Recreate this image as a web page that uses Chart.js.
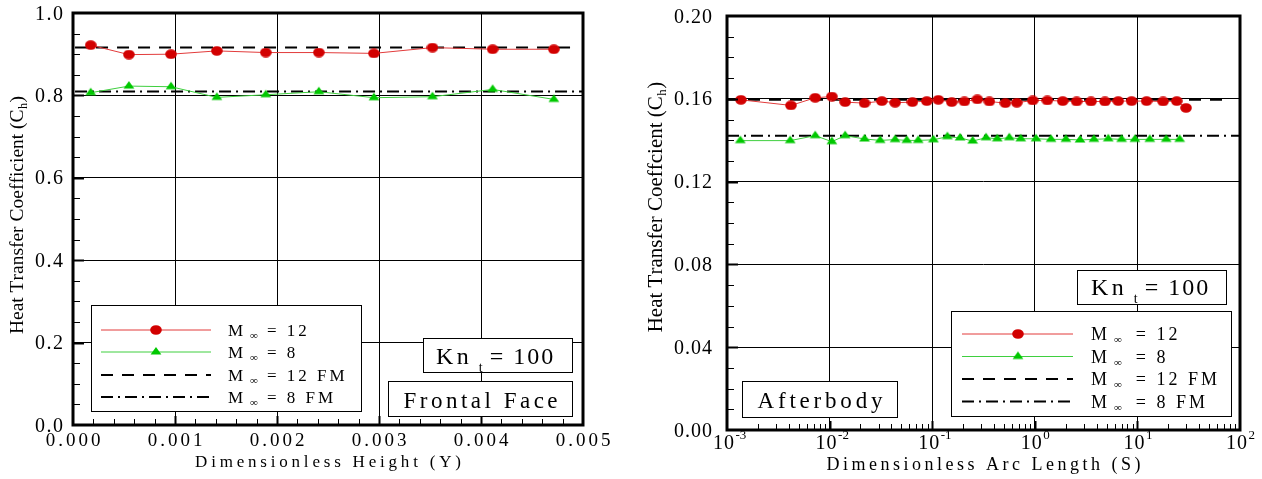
<!DOCTYPE html>
<html>
<head>
<meta charset="utf-8">
<script src="https://cdn.jsdelivr.net/npm/chart.js@4.4.1/dist/chart.umd.min.js"></script>
<style>
  html, body { margin: 0; padding: 0; background: #fff; }
  #wrap { position: relative; width: 1262px; height: 479px; }
  canvas { position: absolute; top: 0; }
  #frontal { left: 0; }
  #after { left: 620px; }
</style>
</head>
<body>
<div id="wrap">
  <canvas id="frontal" width="620" height="479"></canvas>
  <canvas id="after" width="642" height="479"></canvas>
</div>
<script>
// ---- Frontal face (Kn_t = 100) ----
const heightY = [0.000174, 0.000548, 0.000961, 0.00141, 0.00189, 0.00241, 0.00295, 0.003524, 0.004114, 0.004714];
const frontalM12 = [0.922, 0.899, 0.900, 0.908, 0.904, 0.904, 0.902, 0.916, 0.912, 0.912];
const frontalM8 = [0.8065, 0.8226, 0.821, 0.7952, 0.8016, 0.8089, 0.7944, 0.7968, 0.8145, 0.7903];
const frontalFM12 = 0.916;
const frontalFM8 = 0.8097;
const frontalFM12Span = [0.00002, 0.0049];
const frontalFM8Span = [0.00002, 0.005];
const heightTicks = [0, 0.001, 0.002, 0.003, 0.004, 0.005];
const heightTickLabels = ['0.000', '0.001', '0.002', '0.003', '0.004', '0.005'];
const frontalChTicks = [0, 0.2, 0.4, 0.6, 0.8, 1.0];
const frontalChTickLabels = ['0.0', '0.2', '0.4', '0.6', '0.8', '1.0'];

// ---- Afterbody (Kn_t = 100) ----
const arcS12 = [0.001367, 0.0042, 0.00724, 0.01052, 0.01418, 0.0219, 0.0323, 0.0435, 0.0641, 0.0885,
  0.1148, 0.155, 0.206, 0.2756, 0.3607, 0.516, 0.667, 0.955, 1.325, 1.87, 2.56, 3.53, 4.83, 6.50, 8.78, 12.3,
  17.8, 24.2, 29.8];
const afterM12 = [0.1595, 0.1568, 0.1605, 0.1611, 0.1584, 0.1579, 0.1589, 0.1581, 0.1584, 0.1589,
  0.1595, 0.1584, 0.1587, 0.1597, 0.1587, 0.1579, 0.1581, 0.1592, 0.1592, 0.1589, 0.1587, 0.1587, 0.1587, 0.1589, 0.1589, 0.1589,
  0.1587, 0.1589, 0.1556];
const arcS8 = [0.00135, 0.00413, 0.00724, 0.01052, 0.01418, 0.0219, 0.0311, 0.0435, 0.0565, 0.0731,
  0.1028, 0.1406, 0.187, 0.248, 0.335, 0.431, 0.565, 0.729, 1.03, 1.44, 2.01, 2.76, 3.77, 5.20, 7.01, 9.46, 13.2,
  19.1, 25.8];
const afterM8 = [0.1398, 0.1398, 0.1422, 0.1393, 0.1422, 0.1406, 0.1399, 0.1403, 0.1399, 0.1399,
  0.1402, 0.1417, 0.1411, 0.1396, 0.1412, 0.1407, 0.1412, 0.1407, 0.1407, 0.1404, 0.1404, 0.1401, 0.1404, 0.1407, 0.1404, 0.1404, 0.1404,
  0.1404, 0.1404];
const afterFM12 = 0.1596;
const afterFM8 = 0.1422;
const afterFM12Span = [0.001, 80];
const afterFM8Span = [0.001, 100];
const arcTicks = [0.001, 0.01, 0.1, 1, 10, 100];
const arcTickExponents = ['-3', '-2', '-1', '0', '1', '2'];
const afterChTicks = [0, 0.04, 0.08, 0.12, 0.16, 0.20];
const afterChTickLabels = ['0.00', '0.04', '0.08', '0.12', '0.16', '0.20'];

const SERIF = '"Liberation Serif", "Times New Roman", serif';
const RED = '#d20000', RED_LINE = '#e23b3b';
const GREEN = '#00c800', GREEN_LINE = '#3fcf3f';
const DASH = [12, 9];
const DASH_DOT = [12, 5, 2, 5];

// Marker bitmaps: a slightly flattened disc and an upward triangle centred on its centroid
function discMarker(color) {
  const c = document.createElement('canvas');
  c.width = 12; c.height = 10;
  const g = c.getContext('2d');
  g.fillStyle = color;
  g.beginPath();
  g.ellipse(6, 5, 5.8, 4.8, 0, 0, Math.PI * 2);
  g.fill();
  return c;
}
function triangleMarker(color) {
  const c = document.createElement('canvas');
  c.width = 12; c.height = 14;
  const g = c.getContext('2d');
  g.fillStyle = color;
  g.beginPath();
  g.moveTo(6, 2); g.lineTo(11.4, 9.6); g.lineTo(0.6, 9.6);
  g.closePath();
  g.fill();
  return c;
}
const disc = discMarker(RED);
const tri = triangleMarker(GREEN);

function series(xs, ys, lineColor, marker) {
  return {
    data: xs.map((x, i) => ({ x: x, y: ys[i] })),
    showLine: true, borderColor: lineColor, borderWidth: 1,
    pointStyle: marker, pointRadius: 6, tension: 0
  };
}
function freeMolecular(span, level, dash) {
  return {
    data: span.map(x => ({ x: x, y: level })),
    showLine: true, borderColor: '#000', borderWidth: 2, borderDash: dash,
    pointRadius: 0
  };
}

// Text helpers: the labels are drawn letter by letter so they can be spaced out
function runWidth(ctx, r) {
  ctx.font = r.size + 'px ' + SERIF;
  let w = 0;
  for (const ch of r.t) w += ctx.measureText(ch).width + (r.ls || 0);
  return w - (r.ls || 0);
}
function drawRuns(ctx, runs, x, y, align) {
  const total = runs.reduce((s, r) => s + (r.gap || 0) + runWidth(ctx, r), 0);
  let cx = align === 'center' ? x - total / 2 : align === 'right' ? x - total : x;
  ctx.textAlign = 'left';
  ctx.textBaseline = 'alphabetic';
  for (const r of runs) {
    cx += r.gap || 0;
    ctx.font = r.size + 'px ' + SERIF;
    for (const ch of r.t) {
      ctx.fillText(ch, cx, y + (r.dy || 0));
      cx += ctx.measureText(ch).width + (r.ls || 0);
    }
    cx -= r.ls || 0;
  }
  return cx;
}
function seg(ctx, x1, y1, x2, y2, w) {
  ctx.lineWidth = w;
  ctx.beginPath(); ctx.moveTo(x1, y1); ctx.lineTo(x2, y2); ctx.stroke();
}
function textBox(ctx, b) {
  ctx.fillStyle = '#fff';
  ctx.fillRect(b.x1, b.y1, b.x2 - b.x1, b.y2 - b.y1);
  ctx.strokeStyle = '#000';
  ctx.lineWidth = 1;
  ctx.strokeRect(b.x1 + 0.5, b.y1 + 0.5, b.x2 - b.x1 - 1, b.y2 - b.y1 - 1);
  ctx.fillStyle = '#000';
}
function knRuns(size) {
  return [
    { t: 'K', size: size },
    { t: 'n', size: size, gap: 3.5 },
    { t: 't', size: 14, dy: 8, gap: 10 },
    { t: '= 100', size: size, ls: 2, gap: 7 }
  ];
}
function machRuns(size, mach, gaps) {
  return [
    { t: 'M', size: size },
    { t: '\u221E', size: 11, dy: 3, gap: gaps[0] },
    { t: '= ' + mach, size: size, ls: 3, gap: gaps[1] }
  ];
}

// Frame, inward tick marks, tick labels, titles, annotation boxes and legend
function decor(o) {
  return {
    id: 'decor',
    afterDraw(chart) {
      const ctx = chart.ctx, a = chart.chartArea;
      const sx = chart.scales.x, sy = chart.scales.y;
      ctx.save();
      ctx.strokeStyle = '#000';
      ctx.fillStyle = '#000';

      o.yMinor.forEach(v => { const p = Math.round(sy.getPixelForValue(v)) + 0.5; seg(ctx, a.left, p, a.left + 7, p, 1); });
      o.yMajor.forEach(v => { const p = Math.round(sy.getPixelForValue(v)) + 0.5; seg(ctx, a.left, p, a.left + 11, p, 2); });
      o.xMinor.forEach(v => { const p = Math.round(sx.getPixelForValue(v)) + 0.5; seg(ctx, p, a.bottom, p, a.bottom - 6, 1); });
      o.xMajor.forEach(v => { const p = Math.round(sx.getPixelForValue(v)) + 0.5; seg(ctx, p, a.bottom, p, a.bottom - 9, 2); });

      ctx.lineWidth = 3;
      ctx.strokeRect(a.left, a.top, a.right - a.left, a.bottom - a.top);

      sy.ticks.forEach((t, i) => {
        drawRuns(ctx, [{ t: o.yLabels[i], size: o.yLabelSize, ls: o.yLabelLs }],
          a.left - o.yLabelGap, sy.getPixelForValue(t.value) + o.yLabelSize * 0.33, 'right');
      });
      sx.ticks.forEach((t, i) => o.xLabel(ctx, sx.getPixelForValue(t.value), i));

      drawRuns(ctx, [{ t: o.xTitle, size: o.xTitleSize, ls: o.xTitleLs }], (a.left + a.right) / 2, o.xTitleY, 'center');

      ctx.save();
      ctx.translate(o.yTitleX, o.yTitleY);
      ctx.rotate(-Math.PI / 2);
      drawRuns(ctx, [
        { t: o.yTitle, size: o.yTitleSize },
        { t: 'h', size: o.yTitleSize * 0.62, dy: 4, gap: 0.5 },
        { t: ')', size: o.yTitleSize, gap: 0.5 }
      ], 0, 0, 'center');
      ctx.restore();

      o.boxes.forEach(b => {
        textBox(ctx, b);
        if (b.runs) drawRuns(ctx, b.runs, b.x1 + b.textX, b.y1 + b.base, 'left');
        else drawRuns(ctx, [{ t: b.text, size: b.size, ls: b.ls }], (b.x1 + b.x2) / 2, b.y1 + b.base, 'center');
      });

      const L = o.legend;
      textBox(ctx, L.box);
      L.rows.forEach((row, i) => {
        const ds = chart.data.datasets[i];
        const y = L.ys[i];
        ctx.save();
        ctx.strokeStyle = ds.borderColor;
        ctx.setLineDash(ds.borderDash || []);
        seg(ctx, L.lineX[0], y, L.lineX[1], y, ds.borderWidth);
        ctx.restore();
        if (ds.pointRadius > 0) {
          const m = ds.pointStyle;
          ctx.drawImage(m, L.markX - m.width / 2, y - m.height / 2);
        }
        ctx.fillStyle = '#000';
        drawRuns(ctx, row, L.textX, y + 6, 'left');
      });
      ctx.restore();
    }
  };
}

function build(id, o) {
  const clearEdges = c => (c.index === 0 || c.index === c.scale.ticks.length - 1) ? 'rgba(0,0,0,0)' : '#000';
  return new Chart(document.getElementById(id), {
    type: 'scatter',
    data: { datasets: o.datasets },
    options: {
      responsive: false, animation: false, devicePixelRatio: 1, events: [],
      layout: { padding: o.padding },
      plugins: { legend: { display: false }, tooltip: { enabled: false } },
      scales: {
        x: {
          type: o.xType, min: o.xRange[0], max: o.xRange[1], z: 1,
          afterBuildTicks: s => { s.ticks = o.xTicks.map(v => ({ value: v })); },
          afterFit: s => { s.height = o.xAxisHeight; },
          ticks: { display: false },
          border: { display: false },
          grid: { color: clearEdges, lineWidth: 1, drawTicks: false }
        },
        y: {
          type: 'linear', min: o.yRange[0], max: o.yRange[1], z: 1,
          afterBuildTicks: s => { s.ticks = o.yTicks.map(v => ({ value: v })); },
          afterFit: s => { s.width = o.yAxisWidth; },
          ticks: { display: false },
          border: { display: false },
          grid: { color: clearEdges, lineWidth: 1, drawTicks: false }
        }
      }
    },
    plugins: [decor(o)]
  });
}

// Minor tick positions
const frontalYMinor = [], afterYMinor = [], heightMinor = [], arcMinor = [];
for (let k = 1; k < 20; k++) if (k % 4) frontalYMinor.push(k * 0.05);
for (let k = 1; k < 20; k++) if (k % 4) afterYMinor.push(k * 0.01);
for (let k = 1; k < 25; k++) if (k % 5) heightMinor.push(k * 0.0002);
for (let e = -3; e < 2; e++) for (let m = 2; m <= 9; m++) arcMinor.push(m * Math.pow(10, e));

const frontalChart = build('frontal', {
  datasets: [
    series(heightY, frontalM12, RED_LINE, disc),
    series(heightY, frontalM8, GREEN_LINE, tri),
    freeMolecular(frontalFM12Span, frontalFM12, DASH),
    freeMolecular(frontalFM8Span, frontalFM8, DASH_DOT)
  ],
  padding: { left: 0, top: 13, right: 37, bottom: 0 },
  xAxisHeight: 54, yAxisWidth: 73,
  xType: 'linear', xRange: [0, 0.005], yRange: [0, 1],
  xTicks: heightTicks, yTicks: frontalChTicks,
  yMinor: frontalYMinor, yMajor: frontalChTicks.slice(1, -1),
  xMinor: heightMinor, xMajor: heightTicks.slice(1, -1),
  yLabels: frontalChTickLabels, yLabelSize: 20, yLabelLs: 1.5, yLabelGap: 10,
  xLabel: (ctx, px, i) => drawRuns(ctx, [{ t: heightTickLabels[i], size: 19, ls: 3 }], px, 446, 'center'),
  xTitle: 'Dimensionless Height (Y)', xTitleSize: 17, xTitleLs: 3.8, xTitleY: 467,
  yTitle: 'Heat Transfer Coefficient (C', yTitleSize: 19.5, yTitleX: 23, yTitleY: 215,
  boxes: [
    { x1: 423, y1: 338, x2: 573, y2: 373, runs: knRuns(24), textX: 13, base: 26 },
    { x1: 388, y1: 381, x2: 573, y2: 417, text: 'Frontal Face', size: 23, ls: 3.5, base: 27 }
  ],
  legend: {
    box: { x1: 91, y1: 305, x2: 362, y2: 412 },
    ys: [330, 352, 375, 397], lineX: [101, 211], markX: 156, textX: 228,
    rows: [machRuns(17, '12', [7, 9]), machRuns(17, '8', [7, 9]), machRuns(17, '12 FM', [7, 9]), machRuns(17, '8 FM', [7, 9])]
  }
});

const afterChart = build('after', {
  datasets: [
    series(arcS12, afterM12, RED_LINE, disc),
    series(arcS8, afterM8, GREEN_LINE, tri),
    freeMolecular(afterFM12Span, afterFM12, DASH),
    freeMolecular(afterFM8Span, afterFM8, DASH_DOT)
  ],
  padding: { left: 0, top: 16, right: 22, bottom: 0 },
  xAxisHeight: 49, yAxisWidth: 107,
  xType: 'logarithmic', xRange: [0.001, 100], yRange: [0, 0.2],
  xTicks: arcTicks, yTicks: afterChTicks,
  yMinor: afterYMinor, yMajor: afterChTicks.slice(1, -1),
  xMinor: arcMinor, xMajor: arcTicks.slice(1, -1),
  yLabels: afterChTickLabels, yLabelSize: 20, yLabelLs: 1, yLabelGap: 15,
  xLabel: (ctx, px, i) => drawRuns(ctx, [
    { t: '10', size: 20, ls: 1 },
    { t: arcTickExponents[i], size: 13, dy: -10, gap: 1.5 }
  ], px - 14, 449, 'left'),
  xTitle: 'Dimensionless Arc Length (S)', xTitleSize: 18, xTitleLs: 3.5, xTitleY: 470,
  yTitle: 'Heat Transfer Coeffcient (C', yTitleSize: 21, yTitleX: 41.5, yTitleY: 207,
  boxes: [
    { x1: 457, y1: 270, x2: 607, y2: 305, runs: knRuns(24), textX: 14, base: 25 },
    { x1: 122, y1: 381, x2: 278, y2: 418, text: 'Afterbody', size: 23, ls: 3.8, base: 27 }
  ],
  legend: {
    box: { x1: 331, y1: 311, x2: 612, y2: 417 },
    ys: [334, 356.5, 379, 401.5], lineX: [342, 453], markX: 398, textX: 471,
    rows: [machRuns(18, '12', [7, 14]), machRuns(18, '8', [7, 14]), machRuns(18, '12 FM', [7, 14]), machRuns(18, '8 FM', [7, 14])]
  }
});

// redraw once the serif face is surely available so glyph widths are measured right
if (document.fonts && document.fonts.ready) {
  document.fonts.ready.then(() => { frontalChart.draw(); afterChart.draw(); });
}
</script>
</body>
</html>
